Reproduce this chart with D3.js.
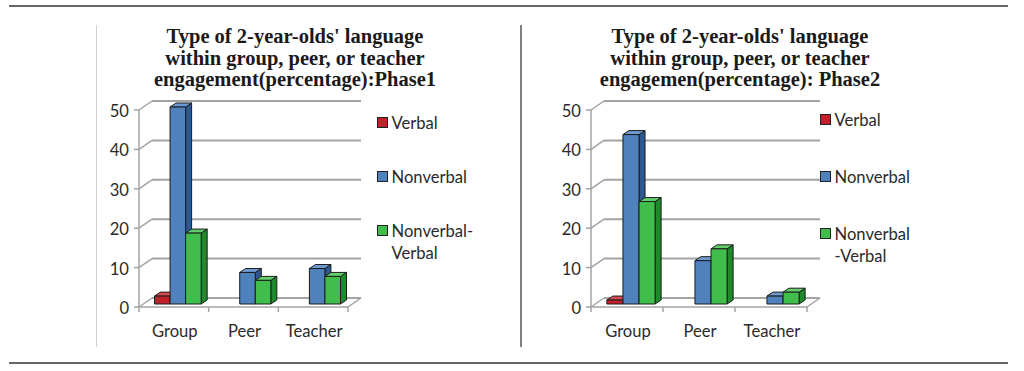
<!DOCTYPE html>
<html>
<head>
<meta charset="utf-8">
<script src="https://cdn.jsdelivr.net/npm/d3@7"></script>
<style>
  html, body { margin: 0; padding: 0; background: #fff; }
  svg { display: block; }
  .title { font-family: "Liberation Serif", "Times New Roman", serif; font-weight: bold; font-size: 20.5px; fill: #1a1a1a; }
  .lbl { font-family: Lato, "Open Sans", sans-serif; font-size: 16.6px; fill: #2a2a2a; }
</style>
</head>
<body>
<svg id="chart" width="1024" height="371"></svg>
<script>
// chart data
const categories = ["Group", "Peer", "Teacher"];
const seriesNames = ["Verbal", "Nonverbal", "Nonverbal-Verbal"];
const yTicks = [0, 10, 20, 30, 40, 50];

const phase1Verbal = [2, 0, 0];
const phase1Nonverbal = [50, 8, 9];
const phase1Mixed = [18, 6, 7];

const phase2Verbal = [1, 0, 0];
const phase2Nonverbal = [43, 11, 2];
const phase2Mixed = [26, 14, 3];

const phase1Title = ["Type of 2-year-olds' language", "within group, peer, or teacher", "engagement(percentage):Phase1"];
const phase2Title = ["Type of 2-year-olds' language", "within group, peer, or teacher", "engagemen(percentage): Phase2"];

const phase1Legend = [["Verbal"], ["Nonverbal"], ["Nonverbal-", "Verbal"]];
const phase2Legend = [["Verbal"], ["Nonverbal"], ["Nonverbal", "-Verbal"]];

const colors = {
    front: ["#c4202b", "#4f81bd", "#40bd4b"],
    side:  ["#86151b", "#2c5790", "#1f8a2c"],
    top:   ["#d64c52", "#6d9ad0", "#62cf6b"]
};

const svg = d3.select("#chart");

// page rules
svg.append("line").attr("x1", 9).attr("x2", 1008).attr("y1", 6).attr("y2", 6)
    .attr("stroke", "#666").attr("stroke-width", 2);
svg.append("line").attr("x1", 9).attr("x2", 1008).attr("y1", 363).attr("y2", 363)
    .attr("stroke", "#666").attr("stroke-width", 2);
svg.append("line").attr("x1", 96.5).attr("x2", 96.5).attr("y1", 25).attr("y2", 347)
    .attr("stroke", "#d0d0d0").attr("stroke-width", 1);
svg.append("line").attr("x1", 521).attr("x2", 521).attr("y1", 25).attr("y2", 347)
    .attr("stroke", "#555").attr("stroke-width", 1.5);

function drawChart(cfg) {
    const g = svg.append("g");
    const wall = { dx: 13, dy: -9 };   // depth of the back wall
    const plane = { dx: 4, dy: -3 };   // where the bars stand
    const bar = { dx: 6, dy: -4 };     // bar thickness

    const y = d3.scaleLinear().domain([0, 50]).range([307, 110]);
    const x = d3.scaleBand().domain(categories)
        .range([cfg.axisX, cfg.axisX + cfg.width])
        .paddingInner(0.33).paddingOuter(0.165);
    const xs = d3.scaleBand().domain(seriesNames).range([0, x.bandwidth()]);

    const grid = "#a3a3a3";
    const right = cfg.axisX + cfg.width;

    // gridlines on back wall + diagonals from the front axis
    yTicks.forEach(t => {
        const yy = y(t);
        g.append("line").attr("x1", cfg.axisX + wall.dx).attr("x2", right + wall.dx)
            .attr("y1", yy + wall.dy).attr("y2", yy + wall.dy)
            .attr("stroke", grid).attr("stroke-width", 2);
        g.append("line").attr("x1", cfg.axisX).attr("x2", cfg.axisX + wall.dx)
            .attr("y1", yy).attr("y2", yy + wall.dy)
            .attr("stroke", grid).attr("stroke-width", 1.5);
        g.append("line").attr("x1", cfg.axisX - 5).attr("x2", cfg.axisX)
            .attr("y1", yy).attr("y2", yy)
            .attr("stroke", grid).attr("stroke-width", 1.5);
        g.append("text").attr("class", "lbl")
            .attr("x", cfg.axisX - 10).attr("y", yy + 7)
            .attr("text-anchor", "end").text(t);
    });

    // front axis and floor
    g.append("line").attr("x1", cfg.axisX).attr("x2", cfg.axisX)
        .attr("y1", y(0)).attr("y2", y(50))
        .attr("stroke", grid).attr("stroke-width", 1.5);
    g.append("line").attr("x1", cfg.axisX).attr("x2", right)
        .attr("y1", y(0)).attr("y2", y(0))
        .attr("stroke", grid).attr("stroke-width", 1.5);
    g.append("line").attr("x1", right).attr("x2", right + wall.dx)
        .attr("y1", y(0)).attr("y2", y(0) + wall.dy)
        .attr("stroke", grid).attr("stroke-width", 1.5);

    const step = x.step();
    d3.range(categories.length + 1).forEach(i => {
        const xx = cfg.axisX + i * step;
        g.append("line").attr("x1", xx).attr("x2", xx)
            .attr("y1", y(0)).attr("y2", y(0) + 5)
            .attr("stroke", grid).attr("stroke-width", 1.5);
    });

    categories.forEach(c => {
        g.append("text").attr("class", "lbl")
            .attr("x", x(c) + x.bandwidth() / 2 + 1).attr("y", 337)
            .attr("text-anchor", "middle").text(c);
    });

    // bars
    categories.forEach((c, ci) => {
        cfg.series.forEach((vals, si) => {
            const v = vals[ci];
            if (!v) return;
            const x0 = x(c) + xs(seriesNames[si]) + plane.dx;
            const x1 = x0 + xs.bandwidth();
            const yb = y(0) + plane.dy;
            const yt = y(v) + plane.dy;
            const bg = g.append("g").attr("stroke", "#1c1c1c").attr("stroke-width", 1)
                .attr("stroke-linejoin", "round");
            bg.append("polygon")
                .attr("points", [[x1, yb], [x1 + bar.dx, yb + bar.dy], [x1 + bar.dx, yt + bar.dy], [x1, yt]].join(" "))
                .attr("fill", colors.side[si]);
            bg.append("polygon")
                .attr("points", [[x0, yt], [x0 + bar.dx, yt + bar.dy], [x1 + bar.dx, yt + bar.dy], [x1, yt]].join(" "))
                .attr("fill", colors.top[si]);
            bg.append("rect")
                .attr("x", x0).attr("y", yt).attr("width", x1 - x0).attr("height", yb - yt)
                .attr("fill", colors.front[si]);
        });
    });

    // title
    cfg.title.forEach((line, i) => {
        g.append("text").attr("class", "title")
            .attr("x", cfg.titleX).attr("y", 43 + i * 21.5)
            .attr("text-anchor", "middle").text(line);
    });

    // legend
    cfg.legend.forEach((lines, i) => {
        const ly = cfg.legendY[i];
        g.append("rect").attr("x", cfg.legendX).attr("y", ly - 10)
            .attr("width", 10).attr("height", 10)
            .attr("fill", colors.front[i]).attr("stroke", "#222").attr("stroke-width", 1);
        lines.forEach((t, k) => {
            g.append("text").attr("class", "lbl")
                .attr("x", cfg.legendX + 14).attr("y", ly + 1 + k * 22.5)
                .text(t);
        });
    });
}

drawChart({
    axisX: 139, width: 209, titleX: 295,
    series: [phase1Verbal, phase1Nonverbal, phase1Mixed],
    title: phase1Title, legend: phase1Legend,
    legendX: 377.5, legendY: [127.5, 181.5, 235.5]
});

drawChart({
    axisX: 591, width: 216, titleX: 740,
    series: [phase2Verbal, phase2Nonverbal, phase2Mixed],
    title: phase2Title, legend: phase2Legend,
    legendX: 820.5, legendY: [124.5, 181.5, 238.5]
});
</script>
</body>
</html>
